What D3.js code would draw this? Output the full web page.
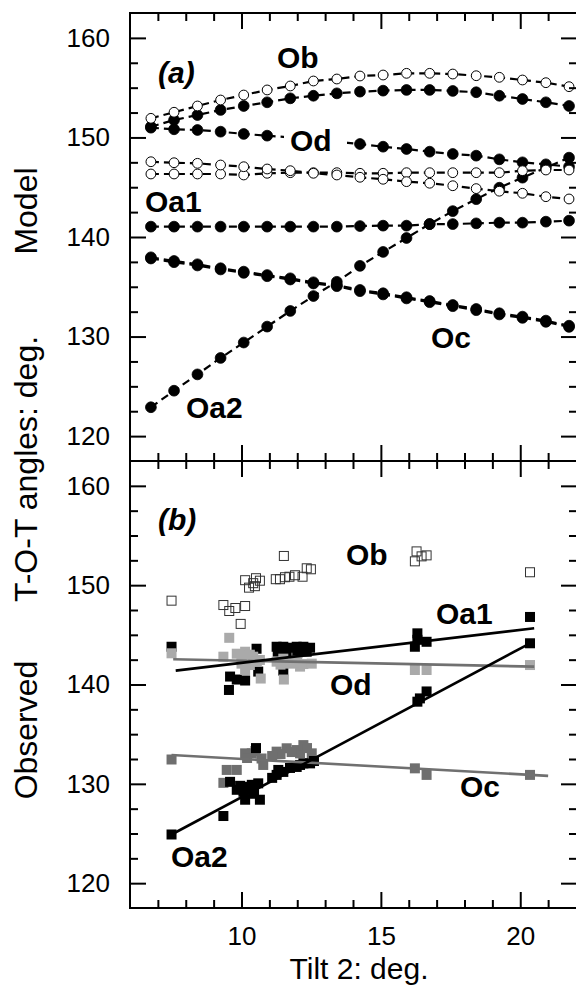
<!DOCTYPE html>
<html><head><meta charset="utf-8">
<script src="https://cdn.jsdelivr.net/npm/d3@7"></script>
<style>
html,body{margin:0;padding:0;background:#fff;}
svg{display:block;font-family:"Liberation Sans",Arial,sans-serif;}
</style></head>
<body>
<svg id="chart" width="576" height="986"></svg>
<script>
// ---------- Panel (a) model data ----------
const modelX = [6.75, 7.58, 8.42, 9.25, 10.08, 10.92, 11.75, 12.58, 13.42, 14.25, 15.08, 15.92, 16.75, 17.58, 18.42, 19.25, 20.08, 20.92, 21.75];
const modelObOpen   = [151.92, 152.53, 153.16, 153.76, 154.26, 154.77, 155.17, 155.67, 155.87, 156.17, 156.27, 156.44, 156.44, 156.37, 156.2, 156.04, 155.77, 155.5, 155.1];
const modelObFilled = [151.08, 151.75, 152.25, 152.76, 153.16, 153.53, 153.93, 154.19, 154.43, 154.6, 154.7, 154.77, 154.77, 154.67, 154.54, 154.19, 153.86, 153.53, 153.16];
const modelOd       = [150.98, 150.82, 150.75, 150.58, 150.35, 150.18, 150.0, 149.8, 149.55, 149.34, 149.07, 148.84, 148.57, 148.34, 148.17, 147.8, 147.5, 147.3, 147.06];
const modelOpenA    = [147.56, 147.46, 147.4, 147.23, 147.06, 146.83, 146.66, 146.4, 146.23, 146.0, 145.8, 145.56, 145.4, 145.15, 144.86, 144.6, 144.39, 144.05, 143.82];
const modelOpenB    = [146.33, 146.33, 146.33, 146.33, 146.23, 146.4, 146.46, 146.46, 146.46, 146.4, 146.4, 146.46, 146.46, 146.46, 146.46, 146.46, 146.66, 146.73, 146.73];
const modelOa1      = [141.04, 141.04, 141.04, 141.04, 141.04, 141.04, 141.04, 141.04, 141.04, 141.1, 141.14, 141.14, 141.3, 141.3, 141.37, 141.44, 141.44, 141.54, 141.64];
const modelOc       = [137.96, 137.59, 137.26, 136.86, 136.52, 136.18, 135.85, 135.45, 135.18, 134.68, 134.35, 133.95, 133.57, 133.17, 132.77, 132.34, 132.0, 131.6, 131.09];
const modelOc2      = [137.84, 137.47, 137.14, 136.74, 136.4, 136.06, 135.73, 135.33, 135.06, 134.56, 134.23, 133.83, 133.45, 133.05, 132.65, 132.22, 131.88, 131.48, 130.97];
const modelOa2      = [122.9, 124.56, 126.2, 127.85, 129.4, 131.0, 132.57, 134.07, 135.5, 137.1, 138.5, 139.9, 141.3, 142.6, 143.8, 144.95, 145.96, 146.96, 147.97];

// ---------- Panel (b) observed data ----------
const obsObX = [7.49, 9.35, 9.56, 9.78, 9.97, 10.13, 10.13, 10.27, 10.42, 10.48, 10.52, 10.66, 11.23, 11.38, 11.52, 11.56, 11.72, 11.92, 12.19, 12.34, 12.49, 16.22, 16.28, 16.46, 16.64, 20.35];
const obsObY = [148.44, 148.0, 147.4, 147.7, 146.1, 147.9, 150.5, 149.75, 150.2, 149.9, 150.7, 150.45, 150.6, 150.6, 152.94, 150.8, 150.85, 151.0, 150.85, 151.7, 151.6, 152.4, 153.4, 152.9, 153.0, 151.3];

const obsOdX = [7.49, 9.35, 9.56, 9.83, 10.13, 10.42, 10.0, 10.3, 10.66, 10.13, 10.69, 11.52, 11.26, 11.74, 12.22, 12.52, 11.5, 12.0, 10.3, 10.55, 10.0, 11.4, 12.1, 11.9, 16.22, 16.64, 20.35];
const obsOdY = [143.14, 142.8, 144.7, 143.1, 143.3, 142.8, 142.1, 141.96, 142.47, 141.46, 140.6, 140.5, 142.3, 142.1, 142.06, 142.1, 142.6, 142.4, 143.0, 142.3, 142.9, 142.0, 141.8, 142.2, 141.46, 141.46, 141.96];

const obsOa1X = [7.49, 9.55, 9.59, 9.83, 10.13, 10.54, 10.6, 11.26, 11.5, 11.5, 11.74, 11.98, 12.22, 12.46, 11.3, 11.62, 12.0, 12.34, 16.31, 16.31, 16.64, 16.22, 20.35];
const obsOa1Y = [143.8, 139.45, 140.8, 140.5, 140.4, 143.6, 141.3, 143.8, 141.4, 143.8, 143.7, 143.8, 143.8, 143.7, 143.3, 143.3, 143.2, 143.3, 145.15, 144.5, 144.3, 143.8, 146.8];

const obsOcX = [7.49, 9.35, 9.47, 9.83, 10.13, 10.37, 10.72, 10.78, 11.26, 11.62, 11.98, 12.1, 12.22, 12.52, 10.2, 10.5, 11.4, 11.8, 12.35, 11.1, 16.22, 16.64, 20.35];
const obsOcY = [132.45, 130.1, 131.4, 131.4, 133.07, 133.07, 132.55, 131.9, 133.24, 133.58, 133.4, 133.07, 133.9, 133.07, 132.6, 133.3, 133.0, 133.2, 133.6, 132.8, 131.56, 130.9, 130.9];

const obsOa2X = [7.49, 9.35, 9.59, 9.83, 10.07, 10.13, 10.3, 10.37, 10.52, 10.6, 10.66, 11.26, 11.32, 11.5, 11.74, 11.98, 12.22, 12.46, 10.2, 10.45, 9.95, 11.1, 12.1, 12.6, 16.31, 16.4, 16.64, 20.35];
const obsOa2Y = [124.9, 126.76, 130.2, 129.4, 129.2, 128.4, 129.4, 129.9, 133.6, 130.05, 128.4, 130.9, 131.4, 131.2, 131.6, 131.7, 132.06, 132.06, 129.7, 129.0, 129.8, 130.6, 131.9, 132.3, 138.27, 138.6, 139.3, 144.15];

// linear fits: [x0, x1], [y0, y1]
const fitOa1X = [7.64, 20.5],  fitOa1Y = [141.4, 145.66];
const fitOdX  = [7.55, 20.5],  fitOdY  = [142.54, 141.8];
const fitOa2X = [7.49, 20.35], fitOa2Y = [124.9, 144.15];
const fitOcX  = [7.49, 21.0],  fitOcY  = [132.9, 130.8];

// ticks
const xMajor = [10, 15, 20];
const xMinor = [7, 8, 9, 11, 12, 13, 14, 16, 17, 18, 19, 21];
const yMajor = [120, 130, 140, 150, 160];
const yMinor = [122.5, 125, 127.5, 132.5, 135, 137.5, 142.5, 145, 147.5, 152.5, 155, 157.5];

// ---------- layout ----------
const svg = d3.select("#chart");
const L = 130, R = 577, TOPA = 13, MID = 461, BOT = 908;
const x = d3.scaleLinear().domain([6, 22]).range([L, 576]);
const yA = d3.scaleLinear().domain([117.5, 162.5]).range([MID, TOPA]);
const yB = d3.scaleLinear().domain([117.5, 162.5]).range([BOT, MID]);
const FONT = '"Liberation Sans", Arial, sans-serif';

function styleAxis(g) {
  g.select(".domain").remove();
  g.selectAll(".tick line").attr("stroke", "#000").attr("stroke-width", 2);
  g.selectAll(".tick text").attr("font-size", 26).attr("font-family", FONT).attr("fill", "#000");
}

function axes(y, top, bottom, showXLabels) {
  svg.append("g").attr("transform", `translate(${L},0)`)
    .call(d3.axisLeft(y).tickValues(yMajor).tickSize(-16).tickPadding(20).tickFormat(d3.format("d"))).call(styleAxis)
    .selectAll(".tick text").attr("dy", "0.32em");
  svg.append("g").attr("transform", `translate(${L},0)`)
    .call(d3.axisLeft(y).tickValues(yMinor).tickSize(-8).tickFormat("")).call(styleAxis);
  svg.append("g").attr("transform", `translate(${R},0)`)
    .call(d3.axisRight(y).tickValues(yMajor).tickSize(-16).tickFormat("")).call(styleAxis);
  svg.append("g").attr("transform", `translate(${R},0)`)
    .call(d3.axisRight(y).tickValues(yMinor).tickSize(-8).tickFormat("")).call(styleAxis);
  svg.append("g").attr("transform", `translate(0,${top})`)
    .call(d3.axisTop(x).tickValues(xMajor).tickSize(-16).tickFormat("")).call(styleAxis);
  svg.append("g").attr("transform", `translate(0,${top})`)
    .call(d3.axisTop(x).tickValues(xMinor).tickSize(-8).tickFormat("")).call(styleAxis);
  svg.append("g").attr("transform", `translate(0,${bottom})`)
    .call(d3.axisBottom(x).tickValues(xMajor).tickSize(-16).tickPadding(19)
      .tickFormat(showXLabels ? d3.format("d") : "")).call(styleAxis);
  svg.append("g").attr("transform", `translate(0,${bottom})`)
    .call(d3.axisBottom(x).tickValues(xMinor).tickSize(-8).tickFormat("")).call(styleAxis);
}

// ---------- Panel (a) ----------
const gA = svg.append("g");
const lineA = (ys) => d3.line().x((d, i) => x(modelX[i])).y(d => yA(d))(ys);
const seriesA = [
  {v: modelOc2, open: false},
  {v: modelOc, open: false},
  {v: modelOa1, open: false},
  {v: modelOa2, open: false},
  {v: modelOd, open: false},
  {v: modelObFilled, open: false},
  {v: modelOpenB, open: true},
  {v: modelOpenA, open: true},
  {v: modelObOpen, open: true}
];
seriesA.forEach(s => {
  gA.append("path").attr("d", lineA(s.v)).attr("fill", "none")
    .attr("stroke", "#000").attr("stroke-width", 2.2).attr("stroke-dasharray", "8,5");
});
seriesA.forEach(s => {
  gA.selectAll(null).data(s.v).enter().append("circle")
    .attr("cx", (d, i) => x(modelX[i])).attr("cy", d => yA(d))
    .attr("r", s.open ? 4.9 : 5.4)
    .attr("fill", s.open ? "#fff" : "#000")
    .attr("stroke", "#000").attr("stroke-width", s.open ? 1 : 0.8);
});

function label(txt, px, py, opts = {}) {
  const t = svg.append("text").attr("x", px).attr("y", py)
    .attr("font-family", FONT).attr("font-size", opts.size || 30)
    .attr("font-weight", "bold").attr("fill", "#000").text(txt);
  if (opts.italic) t.attr("font-style", "italic");
  return t;
}
svg.append("rect").attr("x", 284).attr("y", 128).attr("width", 63).attr("height", 28).attr("fill", "#fff");
label("Ob", 277, 68);
label("Od", 290, 151);
label("Oa1", 145, 212);
label("Oa2", 186, 418);
label("Oc", 431, 348);
label("(a)", 158, 83, {italic: true, size: 30});

// ---------- Panel (b) ----------
const gB = svg.append("g");
function squares(xs, ys, fill, stroke, size) {
  gB.selectAll(null).data(xs).enter().append("rect")
    .attr("x", (d) => x(d) - size / 2).attr("y", (d, i) => yB(ys[i]) - size / 2)
    .attr("width", size).attr("height", size)
    .attr("fill", fill).attr("stroke", stroke).attr("stroke-width", stroke === "none" ? 0 : 1);
}
squares(obsObX, obsObY, "none", "#333", 9);
squares(obsOa1X, obsOa1Y, "#000", "none", 10);
squares(obsOdX, obsOdY, "#aaaaaa", "none", 10);
squares(obsOcX, obsOcY, "#6f6f6f", "none", 10);
squares(obsOa2X, obsOa2Y, "#000", "none", 10);

function fit(xs, ys, color) {
  gB.append("line").attr("x1", x(xs[0])).attr("y1", yB(ys[0]))
    .attr("x2", x(xs[1])).attr("y2", yB(ys[1]))
    .attr("stroke", color).attr("stroke-width", 2.6);
}
fit(fitOdX, fitOdY, "#707070");
fit(fitOcX, fitOcY, "#707070");
fit(fitOa1X, fitOa1Y, "#000");
fit(fitOa2X, fitOa2Y, "#000");

label("Ob", 346, 565);
label("Oa1", 436, 624);
label("Od", 330, 695);
label("Oc", 460, 797);
label("Oa2", 171, 867);
label("(b)", 158, 530, {italic: true, size: 30});

// ---------- axes & frames ----------
axes(yA, TOPA, MID, false);
axes(yB, MID, BOT, true);
svg.append("rect").attr("x", L).attr("y", TOPA).attr("width", R - L).attr("height", BOT - TOPA)
  .attr("fill", "none").attr("stroke", "#000").attr("stroke-width", 2);
svg.append("line").attr("x1", L).attr("x2", R).attr("y1", MID).attr("y2", MID)
  .attr("stroke", "#000").attr("stroke-width", 2);

// ---------- titles ----------
function vtitle(txt, cy) {
  svg.append("text").attr("transform", `translate(37,${cy}) rotate(-90)`)
    .attr("text-anchor", "middle").attr("font-family", FONT).attr("font-size", 32)
    .attr("fill", "#000").text(txt);
}
vtitle("Model", 211);
vtitle("T-O-T angles: deg.", 469);
vtitle("Observed", 730);
svg.append("text").attr("x", 359).attr("y", 979).attr("text-anchor", "middle")
  .attr("font-family", FONT).attr("font-size", 30).attr("fill", "#000").text("Tilt 2: deg.");
</script>
</body></html>
